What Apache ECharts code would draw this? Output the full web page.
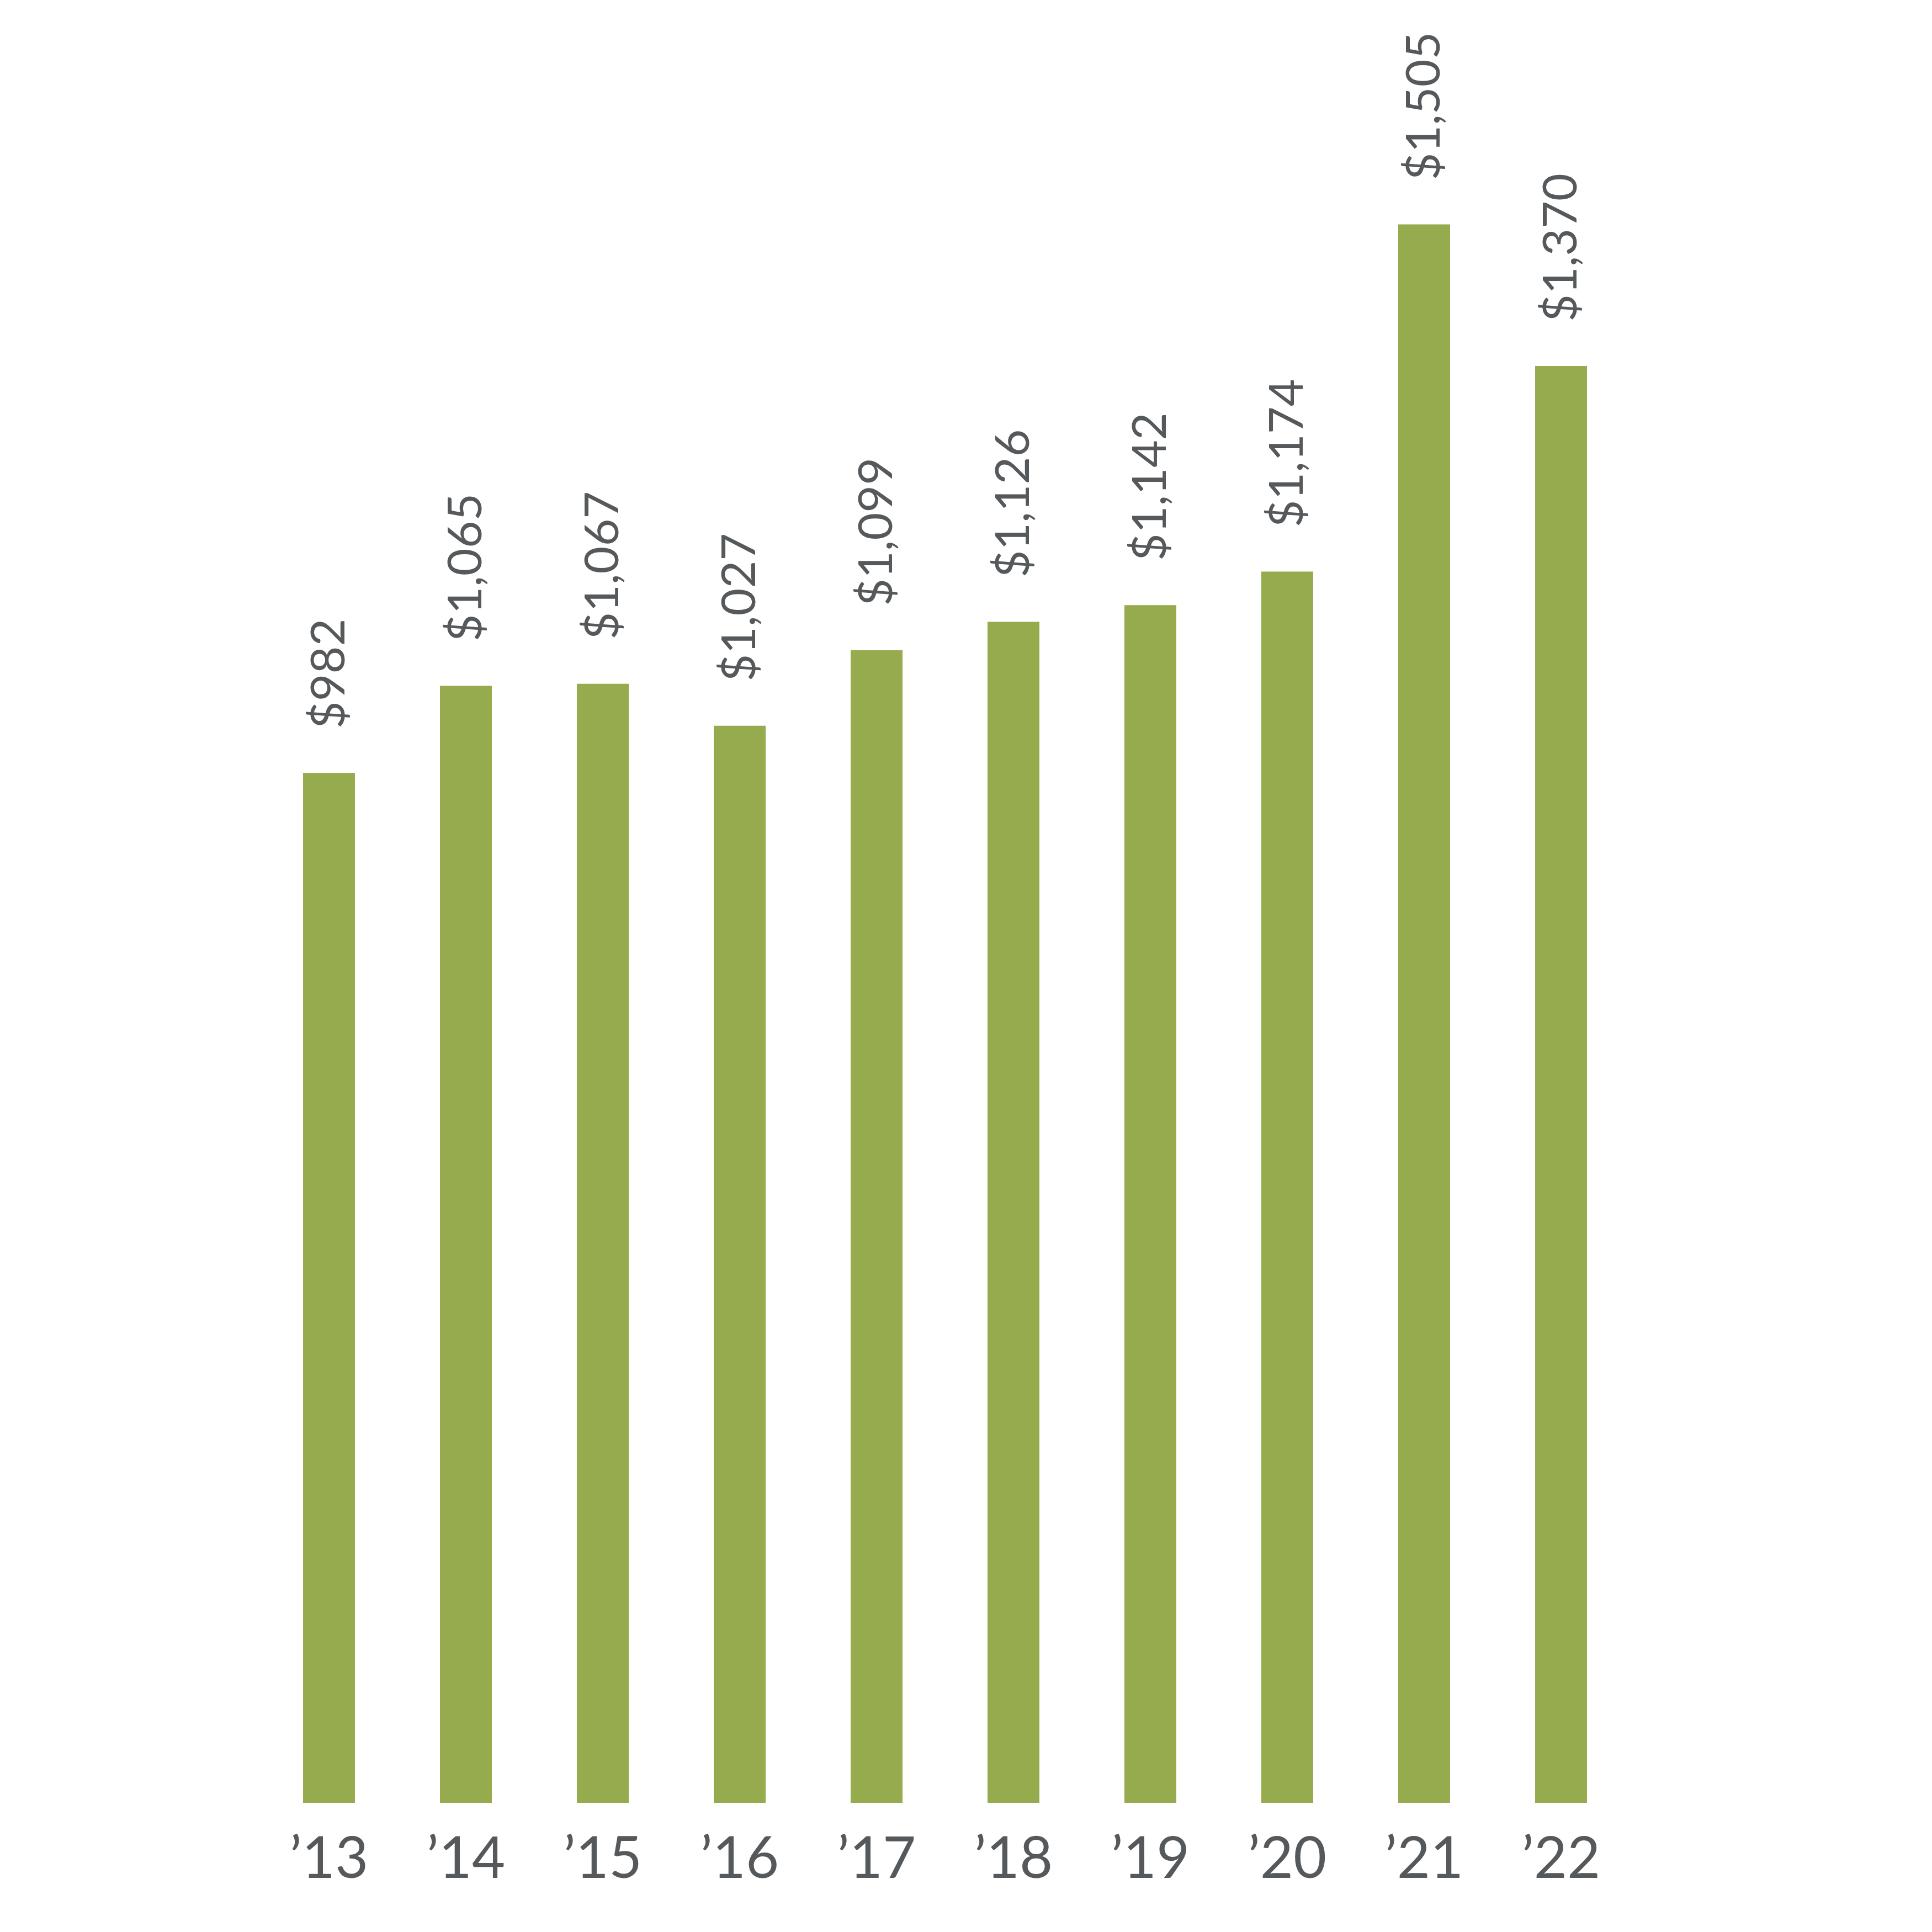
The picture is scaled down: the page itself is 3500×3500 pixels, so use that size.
<!DOCTYPE html>
<html>
<head>
<meta charset="utf-8">
<script src="https://cdn.jsdelivr.net/npm/echarts@6/dist/echarts.min.js"></script>
<style>html,body{margin:0;padding:0;background:#fff;}#c{width:3500px;height:3500px;}</style>
</head>
<body>
<div id="c"></div>
<script>
const categories = ["\u201913","\u201914","\u201915","\u201916","\u201917","\u201918","\u201919","\u201920","\u201921","\u201922"];
const values = [982, 1065, 1067, 1027, 1099, 1126, 1142, 1174, 1505, 1370];
const valueLabels = ["$982","$1,065","$1,067","$1,027","$1,099","$1,126","$1,142","$1,174","$1,505","$1,370"];

const chart = echarts.init(document.getElementById('c'), null, {renderer:'canvas'});
chart.setOption({
  backgroundColor: '#ffffff',
  animation: false,
  grid: {left: 472, right: 548, top: 226, bottom: 234, containLabel: false},
  xAxis: {
    type: 'category',
    data: categories,
    axisLine: {show: false},
    axisTick: {show: false},
    axisLabel: {
      color: '#55595c',
      fontFamily: 'Lato',
      fontWeight: 400,
      fontSize: 104,
      margin: 50
    }
  },
  yAxis: {
    type: 'value',
    min: 0,
    max: 1600,
    show: false,
    splitLine: {show: false}
  },
  series: [{
    type: 'bar',
    data: values,
    barWidth: 94,
    itemStyle: {color: '#95AB4D'},
    label: {
      show: true,
      position: 'top',
      rotate: 90,
      align: 'left',
      verticalAlign: 'middle',
      distance: 80,
      color: '#55595c',
      fontFamily: 'Lato',
      fontWeight: 400,
      fontSize: 86,
      formatter: p => valueLabels[p.dataIndex]
    }
  }]
});
</script>
</body>
</html>
